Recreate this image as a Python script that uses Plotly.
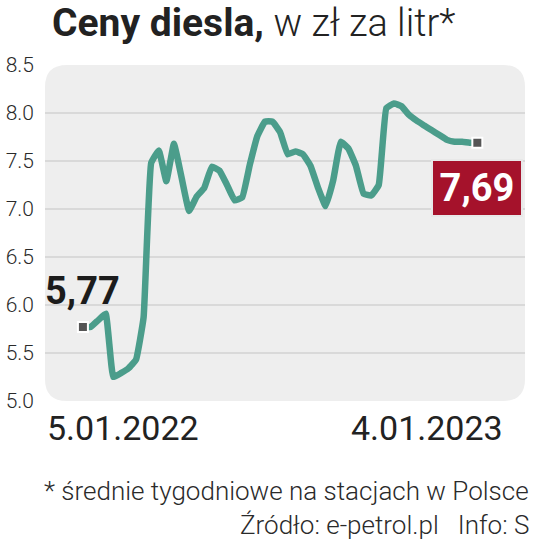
import pandas as pd
import plotly.graph_objects as go

# ---- data ----
start_date = "2022-01-05"
n_weeks = 53
prices = [5.77, 5.77, 5.84, 5.91, 5.25, 5.29, 5.34, 5.43, 5.87, 7.48,
          7.61, 7.29, 7.68, 7.33, 6.98, 7.13, 7.22, 7.44, 7.40, 7.25,
          7.09, 7.12, 7.46, 7.76, 7.91, 7.91, 7.80, 7.57, 7.60, 7.57,
          7.45, 7.22, 7.03, 7.30, 7.70, 7.63, 7.45, 7.16, 7.14, 7.25,
          8.05, 8.10, 8.07, 7.98, 7.92, 7.87, 7.82, 7.77, 7.72, 7.70,
          7.70, 7.69, 7.69]
dates = pd.date_range(start_date, periods=n_weeks, freq="7D")
y_ticks = [5.0, 5.5, 6.0, 6.5, 7.0, 7.5, 8.0, 8.5]
y_tick_text = ["5.0", "5.5", "6.0", "6.5", "7.0", "7.5", "8.0", "8.5"]
date_labels = ["5.01.2022", "4.01.2023"]
first_label = "5,77"
last_label = "7,69"
title_bold = "Ceny diesla,"
title_light = "w zł za litr*"
footnote = "* średnie tygodniowe na stacjach w Polsce"
source = "Źródło: e-petrol.pl\u00a0\u00a0\u00a0Info: S"

LINE = "#4b9d8b"
FONT = "Roboto"

fig = go.Figure()
fig.add_trace(go.Scatter(
    x=dates, y=prices, mode="lines",
    line=dict(color=LINE, width=6.5, shape="spline", smoothing=0.3),
    hoverinfo="skip", showlegend=False))
fig.add_trace(go.Scatter(
    x=[dates[0], dates[-1]], y=[prices[0], prices[-1]], mode="markers",
    marker=dict(symbol="square", size=10, color="#555555",
                line=dict(color="white", width=2)),
    hoverinfo="skip", showlegend=False))

# rounded background
W, H = 480.0, 336.0
rx, ry = 22 / W, 22 / H
path = (f"M {rx},0 L {1-rx},0 Q 1,0 1,{ry} L 1,{1-ry} Q 1,1 {1-rx},1 "
        f"L {rx},1 Q 0,1 0,{1-ry} L 0,{ry} Q 0,0 {rx},0 Z")
fig.add_shape(type="path", path=path, xref="paper", yref="paper",
              fillcolor="#eeeeee", line=dict(width=0), layer="below")

fig.add_annotation(x=dates[0], y=prices[0], text=f"<b>{first_label}</b>",
                   showarrow=False, xanchor="center", yanchor="middle",
                   yshift=36, font=dict(family=FONT, size=38, color="#1c1c1c"))
fig.add_annotation(x=dates[-1], y=prices[-1], text=f"<b>{last_label}</b>",
                   showarrow=False, xanchor="center", yanchor="middle",
                   yshift=-45, width=86, height=52,
                   bgcolor="#a5122b", bordercolor="#e8e8e8", borderwidth=2,
                   font=dict(family=FONT, size=38, color="white"))

fig.add_annotation(x=0, y=0, xref="paper", yref="paper", text=date_labels[0],
                   showarrow=False, xanchor="left", yanchor="middle",
                   yshift=-27, font=dict(family=FONT, size=34, color="#222222"))
fig.add_annotation(x=1, y=0, xref="paper", yref="paper", text=date_labels[1],
                   showarrow=False, xanchor="right", yanchor="middle",
                   xshift=-20, yshift=-27,
                   font=dict(family=FONT, size=34, color="#222222"))
fig.add_annotation(x=1, y=0, xref="paper", yref="paper", text=footnote,
                   showarrow=False, xanchor="right", yanchor="middle",
                   xshift=6, yshift=-90,
                   font=dict(family=FONT, size=26, color="#2a2a2a", weight=300))
fig.add_annotation(x=1, y=0, xref="paper", yref="paper", text=source,
                   showarrow=False, xanchor="right", yanchor="middle",
                   xshift=6, yshift=-124,
                   font=dict(family=FONT, size=26, color="#2a2a2a", weight=300))

fig.update_layout(
    width=536, height=544,
    margin=dict(l=45, r=11, t=65, b=143, autoexpand=False),
    paper_bgcolor="white", plot_bgcolor="rgba(0,0,0,0)",
    title=dict(text=(f"<b>{title_bold}</b> "
                     f"<span style='font-size:38px'>{title_light}</span>"),
               x=52 / 536, xanchor="left", xref="container",
               y=1 - 22 / 544, yanchor="middle", yref="container",
               font=dict(family=FONT, size=39, color="#222222", weight=300)),
    xaxis=dict(range=["2021-12-01", "2023-02-17"], showgrid=False,
               zeroline=False, showticklabels=False, ticks="",
               automargin=False),
    yaxis=dict(range=[5.0, 8.5], tickvals=y_ticks, ticktext=y_tick_text,
               showgrid=True, gridcolor="#d9d9d9", gridwidth=1.5,
               zeroline=False, ticks="", ticklabelstandoff=10, automargin=False,
               tickfont=dict(family=FONT, size=21, color="#2a2a2a", weight=300)),
)

fig.write_html("out.html", config={"displayModeBar": False},
               post_script="document.body.style.margin='0px';"
                           "document.body.style.padding='0px';")
